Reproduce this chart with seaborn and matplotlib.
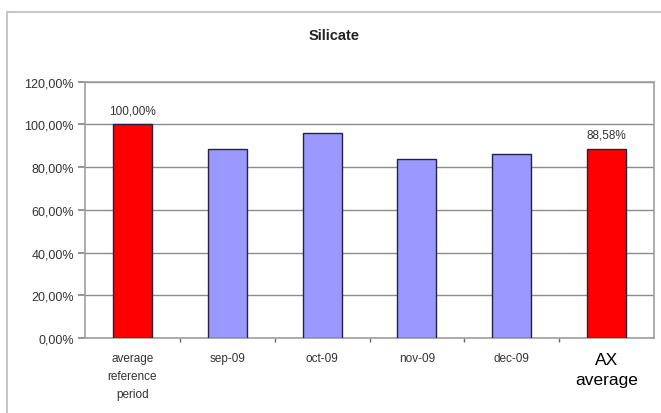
import matplotlib
matplotlib.use("Agg")
import matplotlib.pyplot as plt
import seaborn as sns
import pandas as pd
from matplotlib.lines import Line2D

categories = ["average\nreference\nperiod", "sep-09", "oct-09", "nov-09", "dec-09", "AX\naverage"]
values = [100.00, 88.6, 96.1, 83.6, 86.0, 88.58]
bar_colors = ["#FF0000", "#9999FF", "#9999FF", "#9999FF", "#9999FF", "#FF0000"]
labelled = {0: "100,00%", 5: "88,58%"}
y_ticks = [0, 20, 40, 60, 80, 100, 120]

sns.set_theme(style="white")
plt.rcParams["font.family"] = ["Liberation Sans", "DejaVu Sans"]

df = pd.DataFrame({"cat": categories, "val": values})

fig = plt.figure(figsize=(6.61, 4.14), dpi=100)
fig.patch.set_facecolor("white")

# outer chart frame: only the top and left edges fall inside the image
fx0, fy0 = 7 / 661, 1 - 13 / 414
fig.add_artist(Line2D([fx0, 1.0], [fy0, fy0], transform=fig.transFigure,
                      color="#c8c8c8", linewidth=1.5))
fig.add_artist(Line2D([fx0, fx0], [0.0, fy0], transform=fig.transFigure,
                      color="#c8c8c8", linewidth=1.5))

ax = fig.add_axes([85 / 661, (414 - 339) / 414, (654 - 85) / 661, (339 - 82.6) / 414])
sns.barplot(data=df, x="cat", y="val", hue="cat", palette=bar_colors, saturation=1,
            width=0.41, edgecolor="#222244", linewidth=1.0, legend=False,
            ax=ax, zorder=3)

ax.set_ylim(0, 120)
ax.set_xlim(-0.5, len(categories) - 0.5)
ax.set_yticks(y_ticks)
ax.set_yticklabels([f"{v:.2f}".replace(".", ",") + "%" for v in y_ticks],
                   fontsize=9, color="#333333")
ax.yaxis.grid(True, color="#8c8c8c", linewidth=1.0, zorder=0)
ax.set_axisbelow(True)
ax.set_xlabel("")
ax.set_ylabel("")

# category ticks sit between bars
ax.set_xticks([i + 0.5 for i in range(len(categories) - 1)], minor=True)
ax.tick_params(axis="x", which="major", length=0, pad=10)
ax.tick_params(axis="x", which="minor", length=3, color="#666666", direction="out", bottom=True)
ax.tick_params(axis="y", length=5, color="#888888", direction="out", left=True, pad=3)

for i, lab in enumerate(ax.get_xticklabels()):
    if i == len(categories) - 1:
        lab.set_fontsize(12.5)
        lab.set_color("black")
        lab.set_linespacing(1.45)
    else:
        lab.set_fontsize(8.5)
        lab.set_color("#333333")
        lab.set_linespacing(1.65)
    lab.set_verticalalignment("top")

for s in ax.spines.values():
    s.set_color("#a0a0a0")
    s.set_linewidth(1.2)

for i, txt in labelled.items():
    ax.annotate(txt, (i, values[i]), xytext=(0, 6), textcoords="offset points",
                ha="center", va="bottom", fontsize=8.5, color="#333333")

fig.text(334 / 661, 1 - 36 / 414, "Silicate", ha="center", va="center",
         fontsize=10.5, fontweight="bold", color="#222222")

fig.savefig("out.png", dpi=100)
